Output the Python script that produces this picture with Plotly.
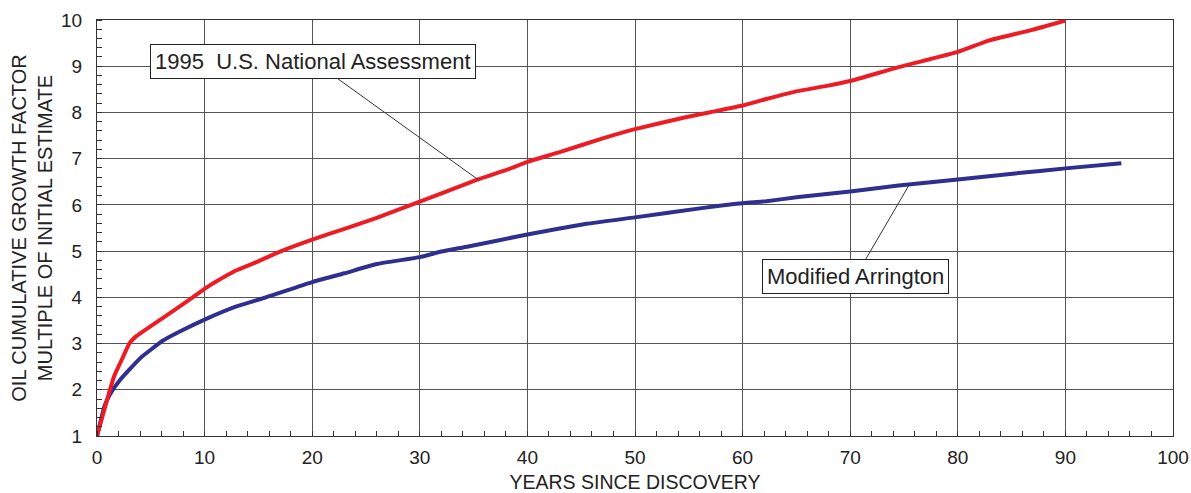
import plotly.graph_objects as go

# Data
years_nat = [0, 1.2, 1.6, 2.3, 3.0, 3.6, 6.1, 8.9, 10.1, 11, 12.9, 14.8, 16.9, 20, 23, 26,
             30, 35.4, 38, 40, 43, 47, 50, 54.6, 57.1, 60, 62.2, 64.9, 67.7, 70,
             74.5, 80, 82.8, 86.8, 90]
growth_nat = [1.0, 2.0, 2.3, 2.65, 3.0, 3.15, 3.55, 4.0, 4.2, 4.33, 4.58, 4.76, 4.98, 5.25, 5.48, 5.72,
              6.07, 6.55, 6.75, 6.93, 7.14, 7.44, 7.64, 7.89, 8.01, 8.15, 8.29, 8.45, 8.57, 8.68,
              8.98, 9.31, 9.55, 9.78, 9.99]

years_arr = [0, 0.7, 1.2, 2.1, 4, 6.1, 7.6, 10.1, 12.9, 15.7, 20, 23, 26, 30, 32, 34.5,
             40, 45.5, 50, 56.2, 59.2, 62.2, 65.2, 70, 74.5, 80, 85.3, 90, 95.2]
growth_arr = [1.0, 1.65, 1.9, 2.2, 2.68, 3.06, 3.25, 3.53, 3.8, 4.0, 4.33, 4.52, 4.72, 4.87, 4.99, 5.1,
              5.36, 5.59, 5.73, 5.93, 6.02, 6.08, 6.17, 6.29, 6.42, 6.55, 6.68, 6.79, 6.9]

x_ticks = [0, 10, 20, 30, 40, 50, 60, 70, 80, 90, 100]
y_ticks = [1, 2, 3, 4, 5, 6, 7, 8, 9, 10]

label_nat = "1995\u00a0 U.S. National Assessment"
label_arr = "Modified Arrington"

FONT = "Liberation Sans, Arial, Helvetica, sans-serif"
GRID = "#555555"

fig = go.Figure()
fig.add_trace(go.Scatter(x=years_arr, y=growth_arr, mode="lines",
                         line=dict(color="#2E2F8F", width=4, shape="spline", smoothing=0.4),
                         showlegend=False))
fig.add_trace(go.Scatter(x=years_nat, y=growth_nat, mode="lines",
                         line=dict(color="#ED1C24", width=4, shape="spline", smoothing=0.4),
                         showlegend=False))

fig.add_annotation(x=35.4, y=6.55, ax=20.1, ay=9.11, axref="x", ayref="y",
                   text=label_nat, showarrow=True, arrowhead=0, arrowwidth=1, arrowcolor="#333333",
                   font=dict(family=FONT, size=22, color="#222222"),
                   bgcolor="white", bordercolor="#222222", borderwidth=1, borderpad=4)
fig.add_annotation(x=75.5, y=6.44, ax=70.5, ay=4.45, axref="x", ayref="y",
                   text=label_arr, showarrow=True, arrowhead=0, arrowwidth=1, arrowcolor="#333333",
                   font=dict(family=FONT, size=22, color="#222222"),
                   bgcolor="white", bordercolor="#222222", borderwidth=1, borderpad=4)

fig.update_layout(
    width=1191, height=493,
    margin=dict(l=97, r=18, t=20, b=57),
    paper_bgcolor="white", plot_bgcolor="white",
    font=dict(family=FONT, size=19, color="#222222"),
    xaxis=dict(range=[0, 100], tickvals=x_ticks, ticks="", showgrid=True, gridcolor=GRID, gridwidth=1.3,
               showline=True, linecolor="#333333", linewidth=1.3, mirror=True, zeroline=False,
               automargin=False, tickfont=dict(size=19), ticklabelstandoff=4,
               minor=dict(dtick=2, ticks="inside", ticklen=5, tickcolor="#333333", showgrid=False),
               title=dict(text="YEARS SINCE DISCOVERY", font=dict(size=19.5), standoff=11)),
    yaxis=dict(range=[1, 10], tickvals=y_ticks, ticks="", showgrid=True, gridcolor=GRID, gridwidth=1.3,
               showline=True, linecolor="#333333", linewidth=1.3, mirror=True, zeroline=False,
               automargin=False, tickfont=dict(size=19), ticklabelstandoff=10,
               minor=dict(dtick=0.2, ticks="inside", ticklen=5, tickcolor="#333333", showgrid=False),
               title=dict(text="OIL CUMULATIVE GROWTH FACTOR<br>MULTIPLE OF INITIAL ESTIMATE",
                          font=dict(size=20), standoff=2)),
)

fig.write_html("out.html")
